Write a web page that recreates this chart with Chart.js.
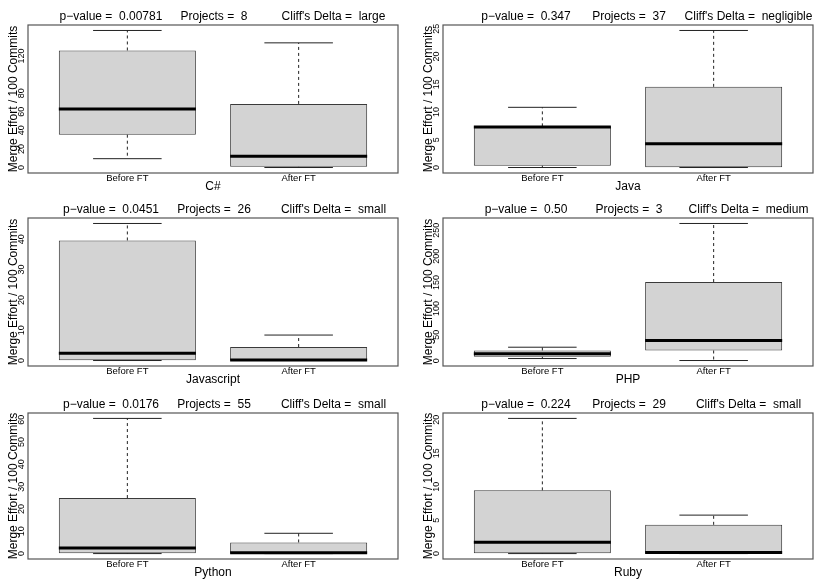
<!DOCTYPE html>
<html><head><meta charset="utf-8">
<script src="https://cdn.jsdelivr.net/npm/chart.js@4.4.1/dist/chart.umd.min.js"></script>
<style>
html,body{margin:0;padding:0;background:#fff;}
#wrap{position:relative;width:830px;height:588px;overflow:hidden;font-family:"Liberation Sans",Arial,sans-serif;}
.panel{position:absolute;}
.panel canvas{position:absolute;left:0;top:0;}
.hdr{position:absolute;font-size:12px;line-height:14px;white-space:pre;transform:translateX(-50%);color:#000;}
</style></head><body><div id="wrap"></div>
<script>
// ---------- data ----------
const categories = ['Before FT', 'After FT'];
const languages = ['C#', 'Java', 'Javascript', 'PHP', 'Python', 'Ruby'];
const pValues = ['0.00781', '0.347', '0.0451', '0.50', '0.0176', '0.224'];
const projects = ['8', '37', '26', '3', '55', '29'];
const cliffsDelta = ['large', 'negligible', 'small', 'medium', 'small', 'small'];
// box statistics: [lower whisker, Q1, median, Q3, upper whisker]
const csharpBefore = [9.5, 35.3, 63.0, 125.9, 147.4];
const csharpAfter  = [0, 0.7, 12.0, 68.4, 134.1];
const javaBefore   = [0, 0.33, 7.3, 7.42, 10.85];
const javaAfter    = [0, 0.05, 4.3, 14.54, 24.7];
const jsBefore     = [0, 0.07, 2.4, 39.6, 45.2];
const jsAfter      = [0, 0.02, 0.2, 4.45, 8.4];
const phpBefore    = [4.2, 7.5, 13.2, 19.6, 25.9];
const phpAfter     = [0.4, 19.6, 38.8, 150.8, 263];
const pythonBefore = [0, 0.2, 2.5, 24.9, 60.6];
const pythonAfter  = [0, 0.05, 0.4, 5.0, 9.1];
const rubyBefore   = [0, 0.05, 1.7, 9.45, 20.2];
const rubyAfter    = [0, 0.02, 0.18, 4.3, 5.75];
// visible y tick labels
const csharpTicks = [0, 20, 40, 60, 80, 120];
const javaTicks   = [0, 5, 10, 15, 20, 25];
const jsTicks     = [0, 10, 20, 30, 40];
const phpTicks    = [0, 50, 100, 150, 200, 250];
const pythonTicks = [0, 10, 20, 30, 40, 50, 60];
const rubyTicks   = [0, 5, 10, 15, 20];
const yAxisTitle = 'Merge Effort / 100 Commits';

// ---------- layout / style ----------
const FONT = "'Liberation Sans', Arial, sans-serif";
Chart.defaults.font.family = FONT;
Chart.defaults.color = '#000';
const BOX_HALF = 0.4, STAPLE_HALF = 0.2;
const PANEL_W = 415, PLOT_LEFT = 28, PLOT_RIGHT_PAD = 17, PLOT_TOP = 25;
const rows = [ {top: 0, h: 196, plotH: 148}, {top: 193, h: 196, plotH: 148}, {top: 388, h: 200, plotH: 146} ];
const hdrX = [111, 214, 333.5];

const panels = [
  {lang: 0, before: csharpBefore, after: csharpAfter, ticks: csharpTicks},
  {lang: 1, before: javaBefore, after: javaAfter, ticks: javaTicks},
  {lang: 2, before: jsBefore, after: jsAfter, ticks: jsTicks},
  {lang: 3, before: phpBefore, after: phpAfter, ticks: phpTicks},
  {lang: 4, before: pythonBefore, after: pythonAfter, ticks: pythonTicks},
  {lang: 5, before: rubyBefore, after: rubyAfter, ticks: rubyTicks}
];

const measureCtx = document.createElement('canvas').getContext('2d');
const TICK_FONT_SIZE = 9.5;
const YTICK_FONT_SIZE = 9;
measureCtx.font = YTICK_FONT_SIZE + 'px ' + FONT;

const framePlugin = {
  id: 'frame',
  afterDraw(chart) {
    const {ctx, chartArea: a} = chart;
    ctx.save();
    ctx.strokeStyle = '#555';
    ctx.lineWidth = 1.2;
    ctx.strokeRect(a.left, a.top, a.right - a.left, a.bottom - a.top);
    ctx.restore();
  }
};

const wrap = document.getElementById('wrap');

panels.forEach((p, idx) => {
  const col = idx % 2, row = rows[Math.floor(idx / 2)];
  const div = document.createElement('div');
  div.className = 'panel';
  div.style.left = (col * PANEL_W) + 'px';
  div.style.top = row.top + 'px';
  div.style.width = PANEL_W + 'px';
  div.style.height = row.h + 'px';
  wrap.appendChild(div);

  const canvas = document.createElement('canvas');
  canvas.width = PANEL_W; canvas.height = row.h;
  canvas.style.width = PANEL_W + 'px'; canvas.style.height = row.h + 'px';
  div.appendChild(canvas);

  const hdrTexts = ['p\u2212value =  ' + pValues[p.lang], 'Projects =  ' + projects[p.lang], "Cliff's Delta =  " + cliffsDelta[p.lang]];
  hdrTexts.forEach((t, i) => {
    const s = document.createElement('div');
    s.className = 'hdr';
    s.textContent = t;
    s.style.left = hdrX[i] + 'px';
    s.style.top = (PLOT_TOP - 5 - 11.2) + 'px';
    div.appendChild(s);
  });

  const b = p.before, a = p.after;
  const lo = Math.min(b[0], a[0]), hi = Math.max(b[4], a[4]);
  const pad = 0.04 * (hi - lo);

  const widest = Math.max(...p.ticks.map(v => measureCtx.measureText(String(v)).width));
  const yTickPad = (PLOT_LEFT - 22) - widest / 2;

  const plotBottom = PLOT_TOP + row.plotH;
  const xAxisH = row.h - plotBottom;
  const xTitlePad = xAxisH - 14 - 7.2;

  const medianData = [
    {x: 1 - BOX_HALF, y: b[2]}, {x: 1 + BOX_HALF, y: b[2]}, {x: 1, y: null},
    {x: 2 - BOX_HALF, y: a[2]}, {x: 2 + BOX_HALF, y: a[2]}
  ];
  const whiskerData = [];
  const stapleData = [];
  [b, a].forEach((s, k) => {
    const c = k + 1;
    whiskerData.push({x: c, y: s[3]}, {x: c, y: s[4]}, {x: c, y: null},
                     {x: c, y: s[1]}, {x: c, y: s[0]}, {x: c, y: null});
    stapleData.push({x: c - STAPLE_HALF, y: s[4]}, {x: c + STAPLE_HALF, y: s[4]}, {x: c, y: null},
                    {x: c - STAPLE_HALF, y: s[0]}, {x: c + STAPLE_HALF, y: s[0]}, {x: c, y: null});
  });

  new Chart(canvas, {
    type: 'bar',
    data: {
      datasets: [
        {type: 'line', data: medianData, borderColor: '#000', borderWidth: 3, pointRadius: 0, spanGaps: false, order: 0},
        {type: 'line', data: stapleData, borderColor: '#222', borderWidth: 1, pointRadius: 0, spanGaps: false, order: 1},
        {type: 'line', data: whiskerData, borderColor: '#222', borderWidth: 1, borderDash: [3, 3], pointRadius: 0, spanGaps: false, order: 1},
        {type: 'bar', data: [{x: 1, y: [b[1], b[3]]}, {x: 2, y: [a[1], a[3]]}],
         backgroundColor: '#d3d3d3', borderColor: '#3a3a3a', borderWidth: 1, borderSkipped: false,
         barPercentage: 0.8, categoryPercentage: 1, order: 2}
      ]
    },
    options: {
      responsive: false,
      animation: false,
      events: [],
      layout: {padding: {top: PLOT_TOP, right: PLOT_RIGHT_PAD, left: 0, bottom: 0}},
      plugins: {legend: {display: false}, tooltip: {enabled: false}, title: {display: false}},
      scales: {
        x: {
          type: 'linear', min: 0.42, max: 2.58, offset: false,
          grid: {display: false, drawTicks: false}, border: {display: false},
          afterBuildTicks: s => { s.ticks = [{value: 1}, {value: 2}]; },
          afterFit: s => { s.height = xAxisH; },
          ticks: {autoSkip: false, maxRotation: 0, minRotation: 0, padding: -0.5,
                  font: {size: TICK_FONT_SIZE}, callback: v => categories[Math.round(v) - 1]},
          title: {display: true, text: languages[p.lang], font: {size: 12}, padding: {top: 0, bottom: xTitlePad}}
        },
        y: {
          type: 'linear', min: lo - pad, max: hi + pad,
          grid: {display: false, drawTicks: false}, border: {display: false},
          afterBuildTicks: s => { s.ticks = p.ticks.map(v => ({value: v})); },
          afterFit: s => { s.width = PLOT_LEFT; },
          ticks: {autoSkip: false, minRotation: 90, maxRotation: 90, crossAlign: 'center',
                  padding: yTickPad, font: {size: YTICK_FONT_SIZE}, callback: v => String(v)},
          title: {display: true, text: yAxisTitle, font: {size: 12}, padding: {top: 6.3, bottom: 0}}
        }
      }
    },
    plugins: [framePlugin]
  });
});
</script></body></html>
